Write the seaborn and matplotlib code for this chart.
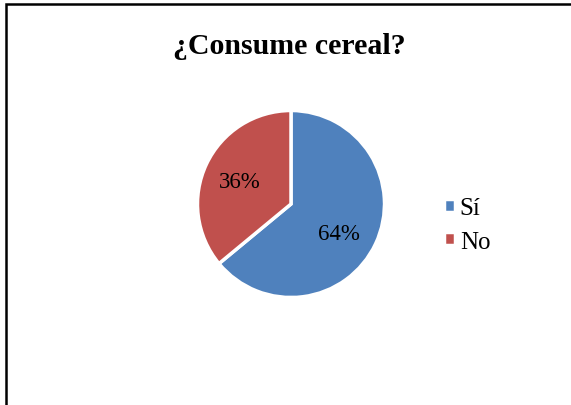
import matplotlib
matplotlib.use("Agg")
import matplotlib.pyplot as plt
import seaborn as sns
import numpy as np
from matplotlib.patches import Rectangle

categories = ["Sí", "No"]
values = [64, 36]
colors = ["#4F81BD", "#C0504D"]

sns.set_theme(style="white")
plt.rcParams['font.family'] = ['Liberation Serif', 'DejaVu Serif']
plt.rcParams['text.color'] = 'black'

fig = plt.figure(figsize=(5.71, 4.06), dpi=100)
fig.patch.set_facecolor("white")

# border of chart area
fig.add_artist(Rectangle((5.5 / 571, -0.05), 1.2, (406 - 4.5) / 406 + 0.05,
                         transform=fig.transFigure, fill=False,
                         edgecolor="black", linewidth=1.8, clip_on=False))

ax = fig.add_axes([(291 - 93.5) / 571, (406 - 205 - 93.5) / 406, 187 / 571, 187 / 406])
wedges, texts, autotexts = ax.pie(
    values, colors=colors, startangle=90, counterclock=False,
    autopct=lambda p: f"{p:.0f}%", pctdistance=0.6,
    wedgeprops=dict(edgecolor="white", linewidth=2.5),
    textprops=dict(fontsize=16.5, color="black"))
# nudge label placement (Office-style placement)
label_shift_deg = [-7, 2]
for w, t, d in zip(wedges, autotexts, label_shift_deg):
    mid = np.deg2rad((w.theta1 + w.theta2) / 2 + d)
    t.set_position((0.6 * np.cos(mid), 0.6 * np.sin(mid)))
ax.set_xlim(-1.0, 1.0)
ax.set_ylim(-1.0, 1.0)
ax.set_aspect("equal")
ax.axis("off")

fig.text(289 / 571, 1 - 46 / 406, "¿Consume cereal?", ha="center", va="center",
         fontsize=21.5, fontweight="bold", color="black")

fig.legend(wedges, categories, loc="center left",
           bbox_to_anchor=(421 / 571, 1 - 226 / 406), frameon=False,
           fontsize=18, handlelength=0.45, handleheight=0.45,
           handletextpad=0.2, labelspacing=0.45)

fig.savefig("out.png", dpi=100)
